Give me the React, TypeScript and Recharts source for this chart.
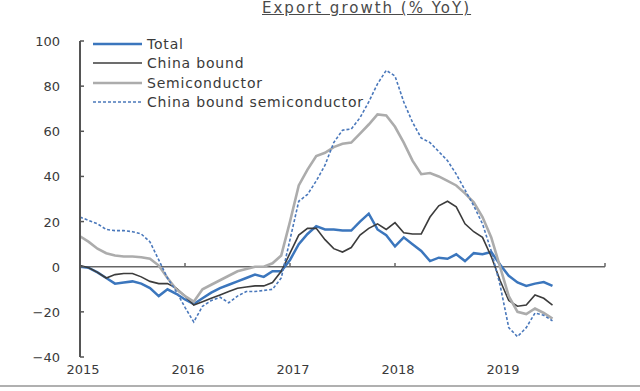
import React from 'react';
import { LineChart, Line, XAxis, YAxis, ReferenceLine, Legend } from 'recharts';

// monthly, Jan 2015 .. Jul 2019, % YoY
const total = [
  0, -0.5, -2.5, -5, -7.5, -7, -6.5, -7.5, -9.5, -13, -10, -12,
  -14.5, -16.5, -14, -11.5, -9.5, -8, -6.5, -5, -3.5, -4.5, -2, -2,
  3, 10, 14.5, 18, 16.5, 16.5, 16, 16, 20, 23.5, 16.5, 14,
  9, 13, 10, 7, 2.5, 4, 3.5, 5.5, 2.5, 6, 5.5, 6.5,
  1, -4, -7, -8.5, -7.5, -6.8, -8.5,
];
const chinaBound = [
  0.5, -0.5, -2.5, -5, -3.5, -3, -3, -4.5, -6.5, -7.5, -7.5, -9.5,
  -13, -17, -15.5, -14, -12.5, -11, -9.5, -9, -8.5, -8.5, -7, -2,
  6, 14, 17, 17, 12, 8, 6.5, 8.5, 14, 17, 19, 16.5,
  19.5, 15, 14.5, 14.5, 22, 27, 29, 26.5, 19, 15.5, 13, 4.5,
  -6, -15, -17.5, -17, -12.5, -14, -17,
];
const semiconductor = [
  13.5, 11, 8, 6, 5, 4.5, 4.5, 4.2, 3.5, 0.5, -5, -10,
  -13, -15.5, -10, -8, -6, -4, -2, -1, 0, 0, 1.5, 5,
  20, 36, 43, 49, 50.5, 53, 54.5, 55, 59, 63, 67.5, 67,
  62, 55, 47, 41, 41.5, 40, 38, 36, 32.5, 28.5, 22, 13,
  0, -13, -20, -21, -18.5, -20.5, -23,
];
const chinaBoundSemi = [
  22, 20.5, 19, 16.5, 16, 16, 15.5, 14.5, 11, 3, -5, -11,
  -18, -24.5, -17.5, -15, -13.5, -16, -13, -11, -11, -10.5, -10, -5,
  12, 29, 32, 38, 45, 55, 60.5, 61, 66, 73, 81, 87,
  84.5, 73, 64, 57, 55, 51, 47, 41, 34, 27, 19, 7,
  -8, -27, -31, -27, -20.5, -21.5, -24,
];

const yearTicks = [0, 12, 24, 36, 48];
const yearLabels = ['2015', '2016', '2017', '2018', '2019'];
const yTicks = [-40, -20, 0, 20, 40, 60, 80, 100];
const tickMarks = [12, 24, 36, 48, 60];

const seriesNames = ['Total', 'China bound', 'Semiconductor', 'China bound semiconductor'];

const data = total.map((v, i) => ({
  m: i,
  total: v,
  chinaBound: chinaBound[i],
  semiconductor: semiconductor[i],
  chinaBoundSemi: chinaBoundSemi[i],
}));

const styles = [
  { key: 'total', stroke: '#3b76bd', width: 2.5, dash: undefined },
  { key: 'chinaBound', stroke: '#3c3c3c', width: 1.6, dash: undefined },
  { key: 'semiconductor', stroke: '#acacac', width: 2.6, dash: undefined },
  { key: 'chinaBoundSemi', stroke: '#4a78bb', width: 1.6, dash: '3 2' },
];

const FONT = '"DejaVu Sans", sans-serif';

const YTick = (props: any) => {
  const { x, y, payload } = props;
  return (
    <g>
      <line x1={x + 20} x2={x + 24} y1={y} y2={y} stroke="#555" strokeWidth={1.5} />
      <text x={x} y={y} dy={5} textAnchor="end" fontSize={13} fill="#3a3a3a" fontFamily={FONT}>
        {String(payload.value).replace('-', '\u2212')}
      </text>
    </g>
  );
};

const LegendBox = () => (
  <div style={{ fontFamily: FONT, fontSize: 14, color: '#3a3a3a' }}>
    {styles.map((s, i) => (
      <div key={s.key} style={{ height: 19.5, display: 'flex', alignItems: 'center' }}>
        <svg width={54} height={10}>
          <line x1={0} x2={49} y1={5} y2={5} stroke={s.stroke} strokeWidth={s.width} strokeDasharray={s.dash} />
        </svg>
        <span style={{ letterSpacing: 0.8, whiteSpace: 'nowrap' }}>{seriesNames[i]}</span>
      </div>
    ))}
  </div>
);

export default function App() {
  return (
    <div style={{ position: 'absolute', left: 0, top: 0, width: 640, height: 391, background: '#fff', fontFamily: FONT }}>
      <div
        style={{
          position: 'absolute', left: 262, top: 0, fontSize: 15, lineHeight: '16px', color: '#4a4a4a',
          textDecoration: 'underline', letterSpacing: 2, whiteSpace: 'nowrap',
        }}
      >
        Export growth (% YoY)
      </div>
      <LineChart width={640} height={391} data={data} margin={{ top: 41, right: 35, left: 0, bottom: 0 }}>
        <XAxis
          dataKey="m"
          type="number"
          domain={[0, 60]}
          ticks={yearTicks}
          tickFormatter={(v: number) => yearLabels[yearTicks.indexOf(v)]}
          axisLine={false}
          tickLine={false}
          height={34}
          tickMargin={2}
          tick={{ fontSize: 13, fill: '#3a3a3a', fontFamily: FONT, dx: 3 }}
        />
        <YAxis
          domain={[-40, 100]}
          ticks={yTicks}
          width={80}
          tickSize={0}
          tickMargin={20}
          interval={0}
          axisLine={{ stroke: '#555', strokeWidth: 2 }}
          tick={<YTick />}
        />
        <ReferenceLine y={0} stroke="#666" strokeWidth={1.6} />
        {tickMarks.map((t) => (
          <ReferenceLine
            key={t}
            segment={[{ x: t, y: 0 }, { x: t, y: 1.6 }]}
            stroke="#666"
            strokeWidth={1.5}
          />
        ))}
        {styles.map((s) => (
          <Line
            key={s.key}
            dataKey={s.key}
            stroke={s.stroke}
            strokeWidth={s.width}
            strokeDasharray={s.dash}
            dot={false}
            type="linear"
            isAnimationActive={false}
          />
        ))}
        <Legend
          layout="vertical"
          align="center"
          verticalAlign="middle"
          content={<LegendBox />}
          wrapperStyle={{ position: 'absolute', left: 93, top: 34, width: 300 }}
        />
      </LineChart>
      <div style={{ position: 'absolute', left: 0, top: 385, width: 640, height: 2, background: '#b0b0b0' }} />
    </div>
  );
}
